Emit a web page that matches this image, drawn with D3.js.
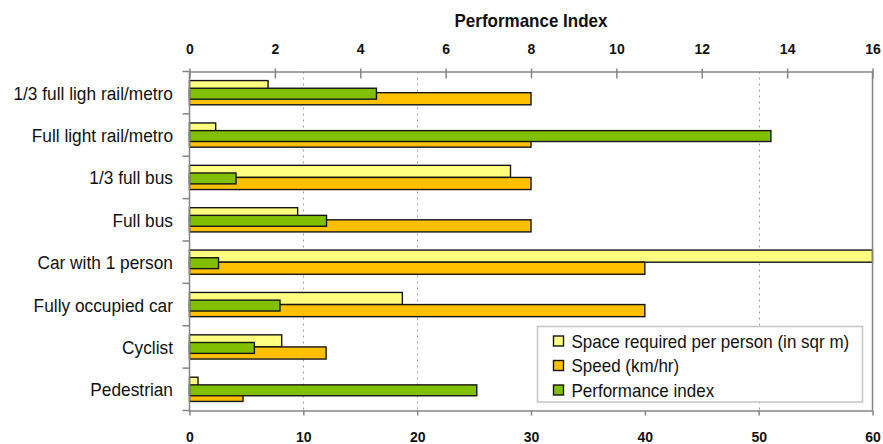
<!DOCTYPE html>
<html>
<head>
<meta charset="utf-8">
<script src="https://cdn.jsdelivr.net/npm/d3@7"></script>
<style>
  html, body { margin: 0; padding: 0; background: #fff; }
  svg { display: block; font-family: "Liberation Sans", Arial, sans-serif; }
</style>
</head>
<body>
<svg id="chart" width="883" height="444"></svg>
<script>
// Transport modes and their measures
const categories = [
  "1/3 full ligh rail/metro",
  "Full light rail/metro",
  "1/3 full bus",
  "Full bus",
  "Car with 1 person",
  "Fully occupied car",
  "Cyclist",
  "Pedestrian"
];
const spaceRequired = [6.9, 2.3, 28.2, 9.5, 60, 18.7, 8.1, 0.75];   // sq m per person
const speed         = [30, 30, 30, 30, 40, 40, 12, 4.7];             // km/hr
const performance   = [4.38, 13.62, 1.09, 3.21, 0.68, 2.12, 1.52, 6.73];

const bottomTicks = [0, 10, 20, 30, 40, 50, 60];
const topTicks    = [0, 2, 4, 6, 8, 10, 12, 14, 16];
const gridValues  = [10, 20, 50];

const seriesNames = [
  "Space required per person (in sqr m)",
  "Speed (km/hr)",
  "Performance index"
];
const seriesColors = ["#ffff80", "#ffc000", "#80c000"];

const svg = d3.select("#chart");
const plotLeft = 189.5, plotRight = 872.5, plotTop = 71.5, plotBottom = 410.5;

const xMain = d3.scaleLinear().domain([0, 60]).range([plotLeft, plotRight]);
const xPerf = d3.scaleLinear().domain([0, 16]).range([plotLeft, plotRight]);
const y = d3.scaleBand().domain(categories).range([plotTop, plotBottom]);
const sub = d3.scaleBand().domain(["space", "speed"])
  .range([0, y.bandwidth()]).paddingInner(0).paddingOuter(0.75);

const axisColor = "#858585";
const barStroke = "#151515";
const barStrokeW = 1.4;

// dotted gridlines
svg.append("g").selectAll("line").data(gridValues).join("line")
  .attr("x1", d => Math.round(xMain(d)) + 0.5)
  .attr("x2", d => Math.round(xMain(d)) + 0.5)
  .attr("y1", plotTop).attr("y2", plotBottom)
  .attr("stroke", "#a0a0a0").attr("stroke-width", 1)
  .attr("stroke-dasharray", "2,4");

// bars: space (upper), speed (lower), performance overlaid in the middle
const rows = categories.map((c, i) => ({c, space: spaceRequired[i], speed: speed[i], perf: performance[i]}));

svg.append("g").selectAll("rect").data(rows).join("rect")
  .attr("x", plotLeft).attr("y", d => y(d.c) + sub("space"))
  .attr("width", d => xMain(d.space) - plotLeft).attr("height", sub.bandwidth())
  .attr("fill", seriesColors[0]).attr("stroke", barStroke).attr("stroke-width", barStrokeW);

svg.append("g").selectAll("rect").data(rows).join("rect")
  .attr("x", plotLeft).attr("y", d => y(d.c) + sub("speed"))
  .attr("width", d => xMain(d.speed) - plotLeft).attr("height", sub.bandwidth())
  .attr("fill", seriesColors[1]).attr("stroke", barStroke).attr("stroke-width", barStrokeW);

const perfH = sub.bandwidth() * 0.9;
svg.append("g").selectAll("rect").data(rows).join("rect")
  .attr("x", plotLeft).attr("y", d => y(d.c) + y.bandwidth() / 2 - perfH / 2 + 1)
  .attr("width", d => xPerf(d.perf) - plotLeft).attr("height", perfH)
  .attr("fill", seriesColors[2]).attr("stroke", barStroke).attr("stroke-width", barStrokeW);

// frame: left axis and right edge
const frame = svg.append("g").attr("stroke", axisColor).attr("stroke-width", 1.5);
frame.append("line").attr("x1", plotLeft).attr("x2", plotLeft).attr("y1", plotTop).attr("y2", plotBottom + 2);
frame.append("line").attr("x1", plotRight).attr("x2", plotRight).attr("y1", plotTop).attr("y2", plotBottom);

// category axis: ticks at band boundaries
svg.append("g").selectAll("line").data(d3.range(categories.length + 1)).join("line")
  .attr("x1", plotLeft - 7).attr("x2", plotLeft)
  .attr("y1", i => plotTop + i * y.step()).attr("y2", i => plotTop + i * y.step())
  .attr("stroke", axisColor).attr("stroke-width", 1.5);

svg.append("g").selectAll("text").data(categories).join("text")
  .attr("transform", d => `translate(173,${y(d) + y.bandwidth() / 2 + 7}) scale(1,1.08)`)
  .attr("text-anchor", "end").attr("font-size", 17.3).attr("fill", "#111")
  .text(d => d);

// bottom axis
const xb = svg.append("g").attr("transform", `translate(0,${plotBottom})`)
  .call(d3.axisBottom(xMain).tickValues(bottomTicks).tickSize(5).tickPadding(17).tickSizeOuter(0));
xb.select(".domain").attr("stroke", axisColor).attr("stroke-width", 1.5);
xb.selectAll(".tick line").attr("stroke", axisColor).attr("stroke-width", 1.5);
xb.selectAll(".tick text").attr("font-size", 14).attr("font-weight", "bold")
  .attr("fill", "#111").attr("font-family", "Liberation Sans, Arial, sans-serif");

// top axis (performance index)
const xt = svg.append("g").attr("transform", `translate(0,${plotTop})`)
  .call(d3.axisTop(xPerf).tickValues(topTicks).tickSize(0).tickPadding(18).tickSizeOuter(0));
xt.select(".domain").attr("stroke", axisColor).attr("stroke-width", 1.5);
xt.selectAll(".tick line").attr("y1", -3).attr("y2", 7)
  .attr("stroke", axisColor).attr("stroke-width", 1.5);
xt.selectAll(".tick text").attr("font-size", 14).attr("font-weight", "bold")
  .attr("fill", "#111").attr("font-family", "Liberation Sans, Arial, sans-serif");

svg.append("text")
  .attr("transform", `translate(${(plotLeft + plotRight) / 2},27) scale(1,1.08)`)
  .attr("text-anchor", "middle").attr("font-size", 17).attr("font-weight", "bold")
  .attr("fill", "#111").text("Performance Index");

// legend
const lg = svg.append("g");
lg.append("rect").attr("x", 537.5).attr("y", 326.5).attr("width", 325).attr("height", 75.5)
  .attr("fill", "#fff").attr("stroke", "#c4c4c4").attr("stroke-width", 1.5);
const items = lg.selectAll("g").data(seriesNames).join("g")
  .attr("transform", (d, i) => `translate(553.5,${341 + i * 24.5})`);
items.append("rect").attr("x", 0).attr("y", -5).attr("width", 10).attr("height", 10)
  .attr("fill", (d, i) => seriesColors[i]).attr("stroke", barStroke).attr("stroke-width", barStrokeW);
items.append("text").attr("transform", "translate(18,6.5) scale(1,1.08)")
  .attr("font-size", 17).attr("fill", "#111").text(d => d);
</script>
</body>
</html>
